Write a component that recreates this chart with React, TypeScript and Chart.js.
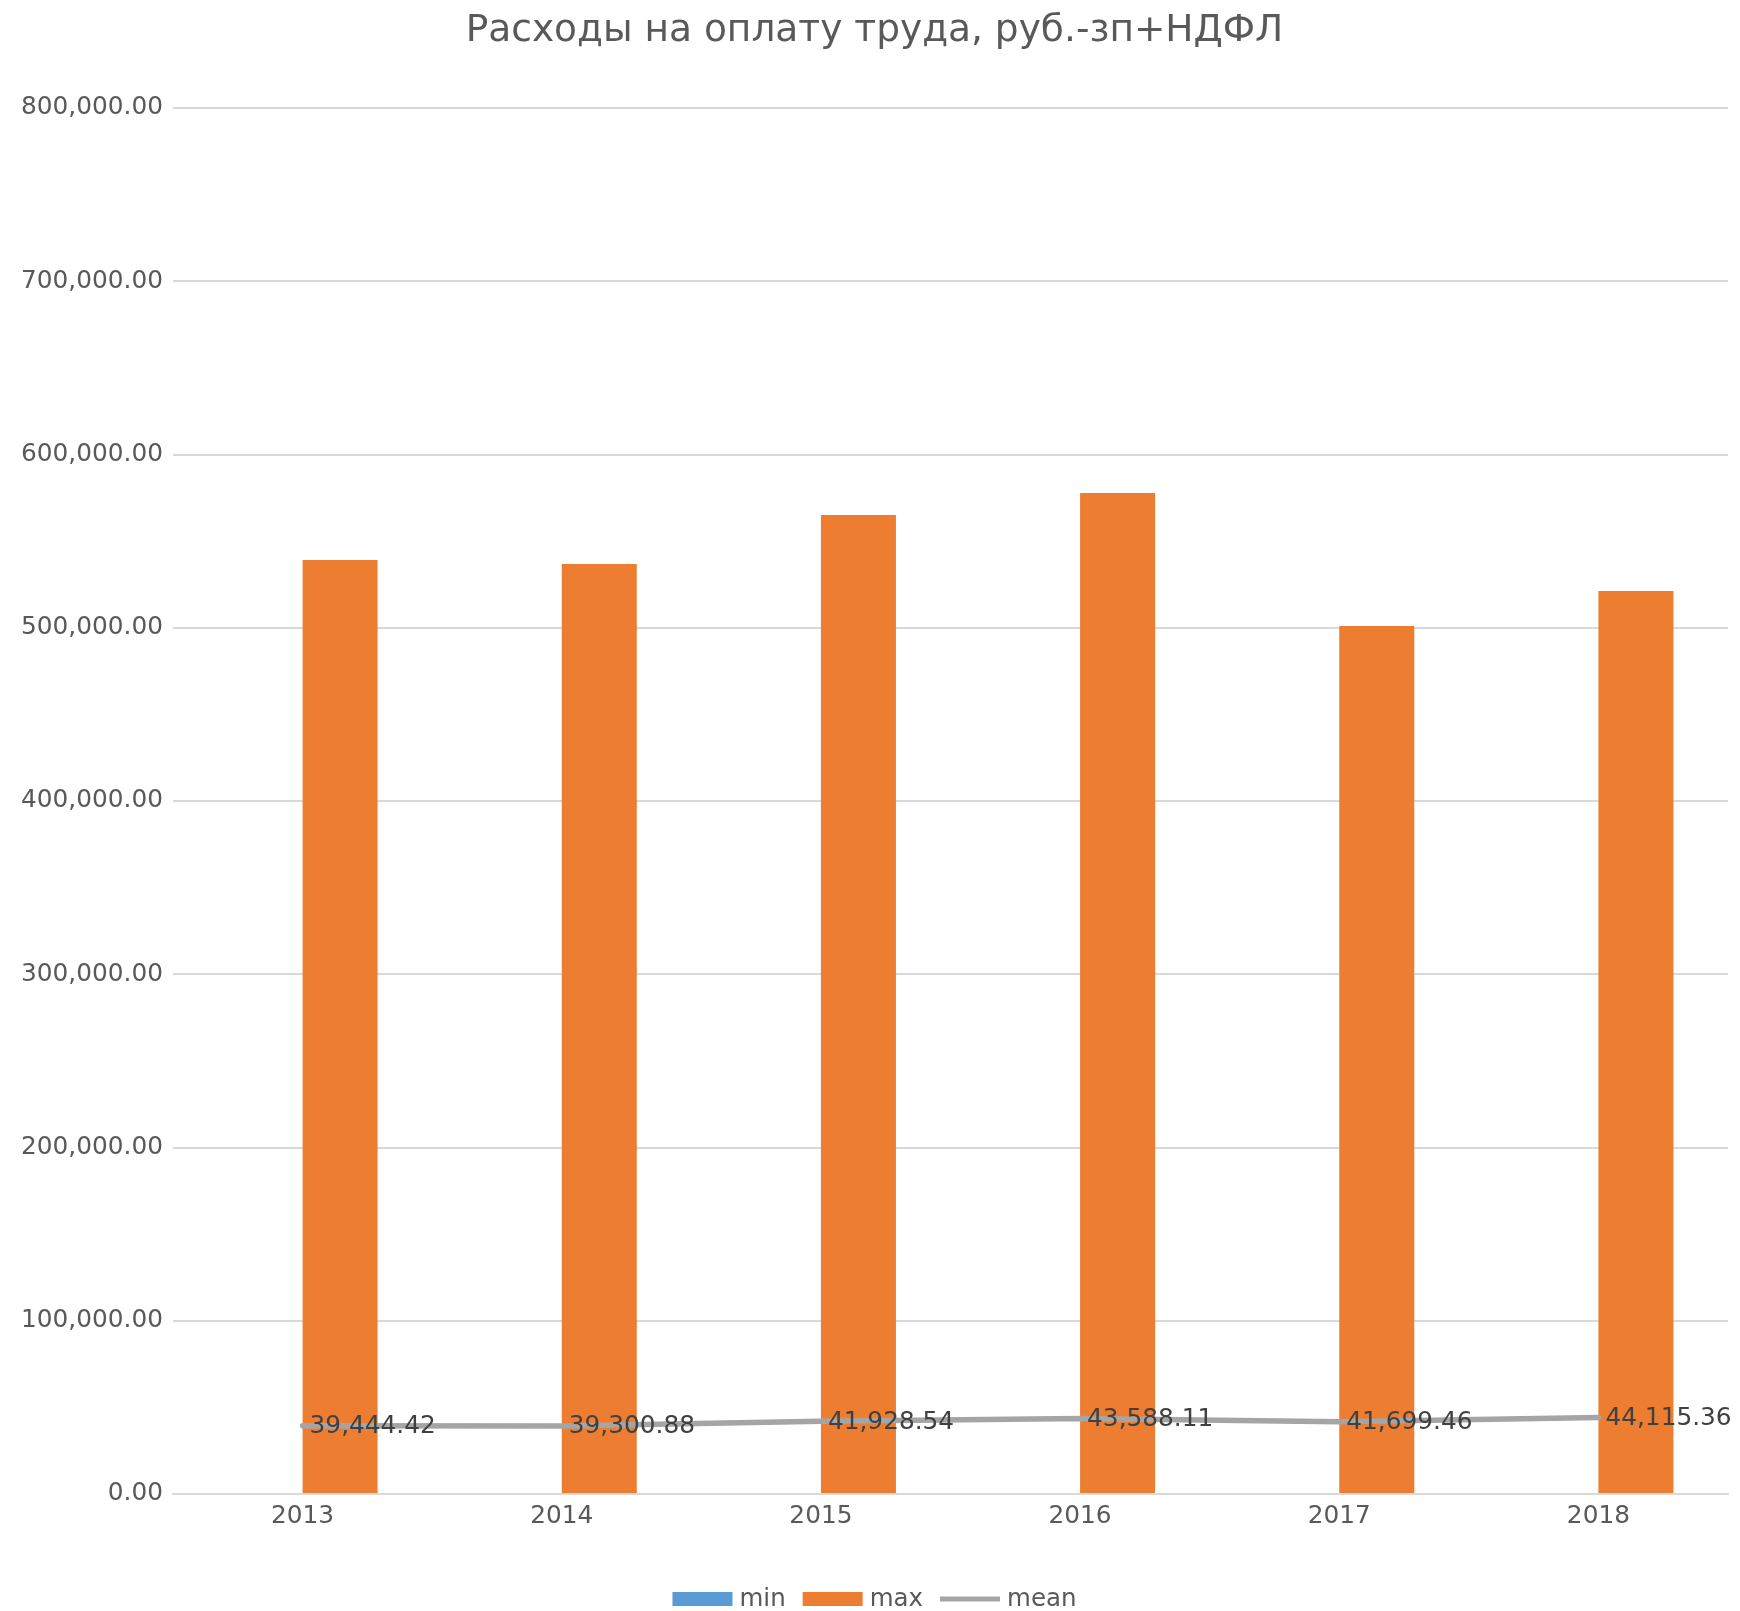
import React, { useEffect, useRef } from 'react';
import { Chart, registerables } from 'chart.js';

Chart.register(...registerables);

const titleText = 'Расходы на оплату труда, руб.-зп+НДФЛ';
const categories = ['2013', '2014', '2015', '2016', '2017', '2018'];
const seriesNames = ['min', 'max', 'mean'];
const seriesColors = ['#5B9BD5', '#ED7D31', '#A5A5A5'];
const minValues = [600, 600, 600, 600, 600, 600];
const maxValues = [539100, 536800, 565100, 577800, 501000, 521200];
const meanValues = [39444.42, 39300.88, 41928.54, 43588.11, 41699.46, 44115.36];
const yMin = 0;
const yMax = 800000;
const yStep = 100000;

const FONT = '"DejaVu Sans", "Liberation Sans", sans-serif';

const fmt = (v: number) =>
  v.toLocaleString('en-US', { minimumFractionDigits: 2, maximumFractionDigits: 2 });

const meanLabelsPlugin = {
  id: 'meanLabels',
  afterDatasetsDraw(chart: any) {
    const meta = chart.getDatasetMeta(0);
    const ctx = chart.ctx;
    ctx.save();
    ctx.font = `24.8px ${FONT}`;
    ctx.fillStyle = '#404040';
    ctx.textAlign = 'left';
    ctx.textBaseline = 'middle';
    meta.data.forEach((pt: any, i: number) => {
      ctx.fillText(fmt(meanValues[i]), pt.x + 7, pt.y + 1);
    });
    ctx.restore();
  },
};

const legendPlugin = {
  id: 'customLegend',
  afterDraw(chart: any) {
    const ctx = chart.ctx;
    ctx.save();
    ctx.font = `24.5px ${FONT}`;
    const boxW = 60;
    const boxH = 14;
    const textGap = 7;
    const itemGap = 17;
    const widths = seriesNames.map((n) => ctx.measureText(n).width);
    const total =
      widths.reduce((a: number, w: number) => a + boxW + textGap + w, 0) + itemGap * (seriesNames.length - 1);
    const padL = chart.options.layout.padding.left;
    const padR = chart.options.layout.padding.right;
    const center = (padL + chart.width - padR) / 2;
    let x = center - total / 2;
    const baseline = 1606;
    seriesNames.forEach((name, i) => {
      if (i === 2) {
        ctx.strokeStyle = seriesColors[i];
        ctx.lineWidth = 5;
        ctx.beginPath();
        ctx.moveTo(x, baseline - 7);
        ctx.lineTo(x + boxW, baseline - 7);
        ctx.stroke();
      } else {
        ctx.fillStyle = seriesColors[i];
        ctx.fillRect(x, baseline - boxH, boxW, boxH);
      }
      x += boxW + textGap;
      ctx.fillStyle = '#595959';
      ctx.textAlign = 'left';
      ctx.textBaseline = 'alphabetic';
      ctx.fillText(name, x, baseline);
      x += widths[i] + itemGap;
    });
    ctx.restore();
  },
};

export default function App() {
  const ref = useRef<HTMLCanvasElement | null>(null);

  useEffect(() => {
    if (!ref.current) return;
    const chart = new Chart(ref.current, {
      type: 'bar',
      data: {
        labels: categories,
        datasets: [
          {
            type: 'line',
            label: seriesNames[2],
            data: meanValues,
            borderColor: seriesColors[2],
            backgroundColor: seriesColors[2],
            borderWidth: 5.5,
            pointRadius: 0,
            tension: 0,
            borderCapStyle: 'round',
            borderJoinStyle: 'round',
          } as any,
          {
            type: 'bar',
            label: seriesNames[0],
            data: minValues,
            backgroundColor: seriesColors[0],
            borderWidth: 0,
          },
          {
            type: 'bar',
            label: seriesNames[1],
            data: maxValues,
            backgroundColor: seriesColors[1],
            borderWidth: 0,
          },
        ],
      },
      options: {
        responsive: false,
        devicePixelRatio: 1,
        animation: false,
        layout: { padding: { left: 21, right: 12, top: 0, bottom: 77 } },
        datasets: {
          bar: { categoryPercentage: 0.579, barPercentage: 1.0 },
        },
        plugins: {
          legend: { display: false },
          tooltip: { enabled: false },
          title: {
            display: true,
            text: titleText,
            color: '#595959',
            font: { family: FONT, size: 37.5, weight: 'normal' },
            padding: { top: 9, bottom: 54 },
          },
        },
        scales: {
          x: {
            grid: { display: false, drawTicks: false },
            border: { display: true, color: '#D9D9D9', width: 2 },
            ticks: {
              color: '#595959',
              font: { family: FONT, size: 24.8 },
              padding: 8,
              maxRotation: 0,
              autoSkip: false,
            },
            afterFit: (scale: any) => {
              scale.height = 40;
            },
          },
          y: {
            min: yMin,
            max: yMax,
            grid: { color: '#D9D9D9', lineWidth: 2, drawTicks: false },
            border: { display: false },
            ticks: {
              stepSize: yStep,
              color: '#595959',
              font: { family: FONT, size: 24.8 },
              padding: 10,
              callback: (v: any) => fmt(Number(v)),
            },
            afterFit: (scale: any) => {
              scale.width = 152;
            },
          },
        },
      } as any,
      plugins: [meanLabelsPlugin, legendPlugin],
    });
    return () => chart.destroy();
  }, []);

  return (
    <canvas
      ref={ref}
      width={1740}
      height={1611}
      style={{ position: 'fixed', left: 0, top: 0, width: 1740, height: 1611, display: 'block', background: '#fff' }}
    />
  );
}
